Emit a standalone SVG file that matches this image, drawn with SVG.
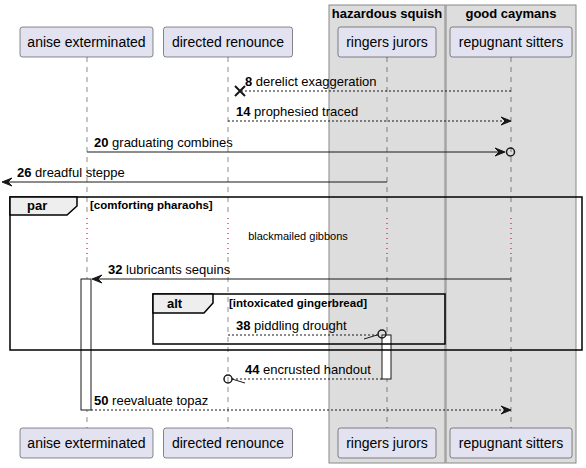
<svg xmlns="http://www.w3.org/2000/svg" width="586" height="468" viewBox="0 0 586 468">
<style>
text{font-family:"Liberation Sans",Arial,sans-serif;fill:#000}
.p{font-size:14px;text-anchor:middle}
.m{font-size:13px}
.b{font-weight:bold}
.part{fill:#E2E2F0;stroke:#181818;stroke-width:0.5}
.grp{fill:#DDDDDD;stroke:#888888;stroke-width:1}
.life{stroke:#181818;stroke-width:0.5;stroke-dasharray:5,5;fill:none}
.dot{stroke:#A80036;stroke-width:1;stroke-dasharray:1,4;fill:none}
.sol{stroke:#181818;stroke-width:1;fill:none}
.dash{stroke:#181818;stroke-width:1;stroke-dasharray:2,2;fill:none}
.ah{fill:#181818;stroke:#181818;stroke-width:1}
.act{fill:#FFFFFF;stroke:#181818;stroke-width:1}
.frame{fill:none;stroke:#000;stroke-width:1.5}
.tab{fill:#EEEEEE;stroke:#000;stroke-width:1.5}
.gt{font-size:13px;font-weight:bold;text-anchor:middle}
.fl{font-size:11.5px;font-weight:bold}
</style>
<g id="box-hazardous-squish">
<rect class="grp" x="329" y="5" width="116" height="458"/>
<text class="gt" x="387" y="18">hazardous squish</text>
</g>
<g id="box-good-caymans">
<rect class="grp" x="446" y="5" width="130" height="458"/>
<text class="gt" x="511" y="18">good caymans</text>
</g>
<g id="lifelines">
<path class="life" d="M87 57V217M87 257V428M228 57V217M228 257V428M387 57V217M387 257V428M511 57V217M511 257V428"/>
<path class="dot" d="M87 218V256M228 218V256M387 218V256M511 218V256"/>
</g>
<g id="p-anise-exterminated">
<rect class="part" x="20" y="27" width="133" height="30" rx="2.5"/>
<text class="p" x="86.5" y="47">anise exterminated</text>
<rect class="part" x="20" y="428" width="133" height="30" rx="2.5"/>
<text class="p" x="86.5" y="448">anise exterminated</text>
</g>
<g id="p-directed-renounce">
<rect class="part" x="163.5" y="27" width="129" height="30" rx="2.5"/>
<text class="p" x="228" y="47">directed renounce</text>
<rect class="part" x="163.5" y="428" width="129" height="30" rx="2.5"/>
<text class="p" x="228" y="448">directed renounce</text>
</g>
<g id="p-ringers-jurors">
<rect class="part" x="338" y="27" width="98" height="30" rx="2.5"/>
<text class="p" x="387" y="47">ringers jurors</text>
<rect class="part" x="338" y="428" width="98" height="30" rx="2.5"/>
<text class="p" x="387" y="448">ringers jurors</text>
</g>
<g id="p-repugnant-sitters">
<rect class="part" x="450" y="27" width="122" height="30" rx="2.5"/>
<text class="p" x="511" y="47">repugnant sitters</text>
<rect class="part" x="450" y="428" width="122" height="30" rx="2.5"/>
<text class="p" x="511" y="448">repugnant sitters</text>
</g>
<g id="activations">
<rect class="act" x="81" y="279" width="10" height="131"/>
<rect class="act" x="382" y="335" width="9" height="44"/>
</g>
<g id="connectors">
<line class="dash" x1="511" y1="91" x2="241" y2="91"/>
<path d="M235 86L245 96M235 96L245 86" stroke="#181818" stroke-width="2"/>
<text class="m" x="245" y="86"><tspan class="b">8</tspan> derelict exaggeration</text>
<line class="dash" x1="228" y1="121" x2="509" y2="121"/>
<polygon class="ah" points="511,121 501,117 505,121 501,125"/>
<text class="m" x="236" y="116"><tspan class="b">14</tspan> prophesied traced</text>
<line class="sol" x1="87" y1="152" x2="504" y2="152"/>
<polygon class="ah" points="505,152 495,148 499,152 495,156"/>
<circle cx="510.5" cy="152" r="4" fill="none" stroke="#181818" stroke-width="1.5"/>
<text class="m" x="94" y="147"><tspan class="b">20</tspan> graduating combines</text>
<line class="sol" x1="387" y1="182" x2="4" y2="182"/>
<polygon class="ah" points="2,182 12,178 8,182 12,186"/>
<text class="m" x="17" y="177"><tspan class="b">26</tspan> dreadful steppe</text>
<text x="298" y="240" font-size="11" text-anchor="middle">blackmailed gibbons</text>
<line class="sol" x1="511" y1="279" x2="94" y2="279"/>
<polygon class="ah" points="92,279 102,275 98,279 102,283"/>
<text class="m" x="108" y="274"><tspan class="b">32</tspan> lubricants sequins</text>
<line class="dash" x1="228" y1="335" x2="378" y2="335"/>
<line class="sol" x1="364" y1="339" x2="377" y2="335"/>
<circle cx="382" cy="334" r="4" fill="none" stroke="#181818" stroke-width="1.5"/>
<text class="m" x="236" y="330"><tspan class="b">38</tspan> piddling drought</text>
<line class="dash" x1="382" y1="379" x2="232" y2="379"/>
<line class="sol" x1="232" y1="379" x2="245" y2="383"/>
<circle cx="228" cy="379" r="4" fill="none" stroke="#181818" stroke-width="1.5"/>
<text class="m" x="245" y="374"><tspan class="b">44</tspan> encrusted handout</text>
<line class="dash" x1="91" y1="410" x2="509" y2="410"/>
<polygon class="ah" points="511,410 501,406 505,410 501,414"/>
<text class="m" x="94" y="405"><tspan class="b">50</tspan> reevaluate topaz</text>
</g>
<g id="frame-par">
<rect class="frame" x="10" y="197" width="572" height="153"/>
<path class="tab" d="M10 197H77V206L67 215H10Z"/>
<text class="m b" x="27" y="210">par</text>
<text class="fl" x="90" y="209">[comforting pharaohs]</text>
</g>
<g id="frame-alt">
<rect class="frame" x="153" y="294" width="292" height="50"/>
<path class="tab" d="M153 294H213V303L204 313H153Z"/>
<text class="m b" x="167" y="308">alt</text>
<text class="fl" x="229" y="307">[intoxicated gingerbread]</text>
</g>
</svg>
